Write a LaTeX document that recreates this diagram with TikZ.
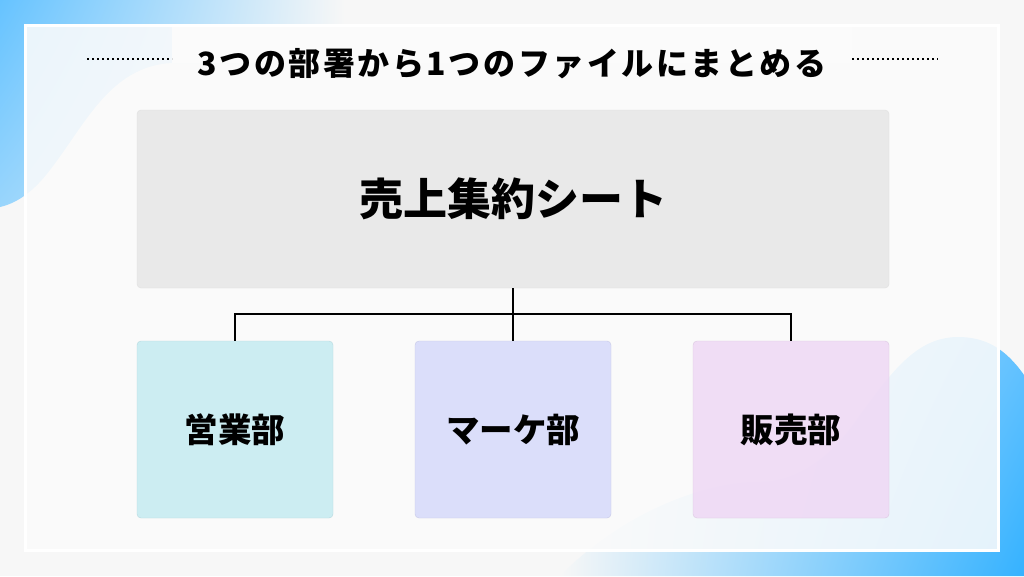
\documentclass[tikz,border=0pt]{standalone}
\usepackage{fontspec}
\usetikzlibrary{shadings}
\setmainfont{Noto Sans CJK JP}[BoldFont={Noto Sans CJK JP Black}]
\newfontfamily\titlefont{Noto Sans CJK JP Black}[LetterSpace=8]
\definecolor{pagegray}{HTML}{F7F7F7}
\definecolor{panelgray}{HTML}{FBFBFB}
\definecolor{skyleft}{HTML}{66C3FF}
\definecolor{skyright}{HTML}{35B2FF}
\definecolor{maingray}{HTML}{E9E9E9}
\definecolor{deptcyan}{HTML}{C7ECF2}
\definecolor{deptblue}{HTML}{D8DBFA}
\definecolor{deptpink}{HTML}{EFDAF5}
\tikzset{
  dept/.style={draw=#1!92!black, fill=#1, fill opacity=0.9, text opacity=1, rounded corners=4pt, minimum width=196pt, minimum height=177pt, inner sep=0pt, font=\bfseries\fontsize{33.5}{33.5}\selectfont},
  wire/.style={draw=black, line width=2.5pt},
  dotline/.style={draw=black, line width=2pt, dash pattern=on 2pt off 3pt}
}
\begin{document}
\begin{tikzpicture}[x=1pt,y=-1pt]
\useasboundingbox (0,0) rectangle (1024,576);
\fill[pagegray] (0,0) rectangle (1024,576);

\shade[upper left=skyleft, upper right=pagegray, lower left=skyleft!65!pagegray, lower right=pagegray]
  (0,0) -- (345,0) -- (345,63) -- (172,63) .. controls (110,66) and (85,125) .. (50,170) .. controls (35,190) and (18,203) .. (0,207) -- cycle;
\shade[upper left=pagegray, upper right=skyleft, lower left=pagegray, lower right=skyright]
  (1024,375) .. controls (1005,348) and (985,337) .. (958,337) .. controls (915,337) and (890,375) .. (860,415) .. controls (830,460) and (795,482) .. (760,482) .. controls (700,482) and (620,515) .. (560,576) -- (1024,576) -- cycle;

\draw[draw=white, line width=3pt, fill=panelgray, fill opacity=0.88] (25.5,25.5) rectangle (998.5,550);
\fill[panelgray] (172,27) rectangle (852,63);

\node[inner sep=0pt, font=\titlefont\fontsize{32}{32}\selectfont] (heading) at (512,64) {3つの部署から1つのファイルにまとめる};
\coordinate (dotA) at (87,59);
\coordinate (dotB) at (172,59);
\coordinate (dotC) at (852,59);
\coordinate (dotD) at (938,59);
\draw[dotline] (dotA) -- (dotB);
\draw[dotline] (dotC) -- (dotD);

\node[draw=black!12, fill=maingray, rounded corners=4pt, minimum width=752pt, minimum height=178pt, inner sep=0pt, font=\bfseries\fontsize{44}{44}\selectfont] (summary) at (513,199) {売上集約シート};

\node[dept=deptcyan] (sales) at (235,429.5) {営業部};
\node[dept=deptblue] (marketing) at (513,429.5) {マーケ部};
\node[dept=deptpink] (retail) at (791,429.5) {販売部};

\coordinate (bus) at (513,314);
\draw[wire] (summary.south) -- (marketing.north);
\draw[wire] (sales.north) |- (bus);
\draw[wire] (retail.north) |- (bus);
\end{tikzpicture}
\end{document}
